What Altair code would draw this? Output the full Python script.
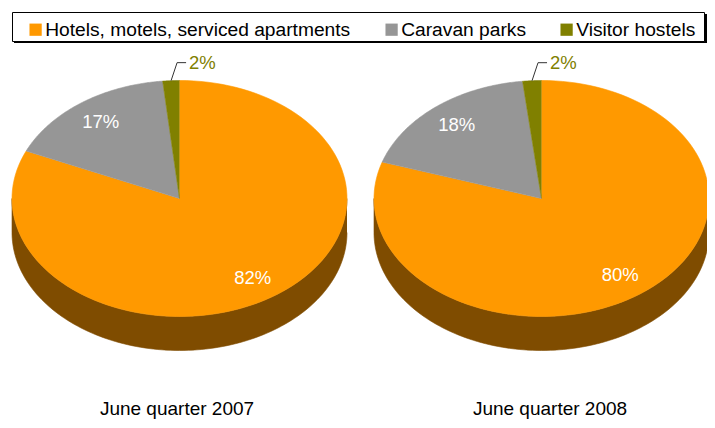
import altair as alt
import pandas as pd

# ---- data -------------------------------------------------------------
categories = ["Hotels, motels, serviced apartments", "Caravan parks", "Visitor hostels"]
periods = ["June quarter 2007", "June quarter 2008"]
share_2007 = [81.6, 16.8, 1.6]
share_2008 = [80.0, 18.2, 1.8]

# ---- styles / layout (page pixels) ------------------------------------
top_colors = ["#FF9900", "#969696", "#808000"]
side_colors = ["#7F4C00", "#4B4B4B", "#404000"]
FONT = "Liberation Sans"
PIE_CX = [179.5, 541.5]
TITLE_X = [177, 550]
TITLE_BASELINE = 415
PIE_CY = 198.5
RX, RY, DEPTH = 167.5, 118, 34
STEPS = 120

rows = []
for p, (period, shares) in enumerate(zip(periods, [share_2007, share_2008])):
    for c, (cat, s) in enumerate(zip(categories, shares)):
        rows.append({"period": period, "p": p, "category": cat, "c": c, "share": s})
df = pd.DataFrame(rows)

XS = alt.Scale(domain=[8, 707], nice=False, zero=False)
YS = alt.Scale(domain=[8, 420], nice=False, zero=False, reverse=True)


def X(field):
    return alt.X(field, type="quantitative", scale=XS, axis=None)


def Y(field):
    return alt.Y(field, type="quantitative", scale=YS, axis=None)


top_scale = alt.Scale(domain=categories, range=top_colors)
side_scale = alt.Scale(domain=categories, range=side_colors)

base = (
    alt.Chart(df)
    .transform_joinaggregate(total="sum(share)", groupby=["period"])
    .transform_window(cum="sum(share)", groupby=["period"], sort=[alt.SortField("c")], frame=[None, 0])
    .transform_calculate(a0="2*PI*(datum.cum - datum.share)/datum.total")
    .transform_calculate(a1="2*PI*datum.cum/datum.total")
    .transform_calculate(cx=f"{PIE_CX[0]} + datum.p * {PIE_CX[1] - PIE_CX[0]}")
)

# visible side wall of each slice (front half of the ellipse)
side = (
    base.transform_calculate(s0="max(datum.a0, PI/2)")
    .transform_calculate(s1="min(datum.a1, 3*PI/2)")
    .transform_filter("datum.s1 > datum.s0")
    .transform_calculate(k=f"sequence(0, {2 * STEPS + 2})")
    .transform_flatten(["k"])
    .transform_calculate(
        t=f"datum.k <= {STEPS} ? datum.s0 + (datum.s1 - datum.s0) * datum.k / {STEPS}"
        f" : datum.s1 - (datum.s1 - datum.s0) * (datum.k - {STEPS + 1}) / {STEPS}"
    )
    .transform_calculate(dz=f"datum.k <= {STEPS} ? 0 : {DEPTH}")
    .transform_calculate(px=f"datum.cx + {RX} * sin(datum.t)")
    .transform_calculate(py=f"{PIE_CY} - {RY} * cos(datum.t) + datum.dz")
    .mark_line(strokeWidth=0.6, strokeJoin="round")
    .encode(
        x=X("px"),
        y=Y("py"),
        order=alt.Order("k:Q"),
        detail="period:N",
        fill=alt.Fill("category:N", scale=side_scale, legend=None),
        stroke=alt.Stroke("category:N", scale=side_scale, legend=None),
    )
)

legend = alt.Legend(
    orient="none", legendX=18, legendY=12, direction="horizontal", columns=3,
    title=None, symbolType="square", symbolSize=150, symbolStrokeWidth=0,
    labelFont=FONT, labelFontSize=19.2, labelColor="black", labelOffset=0,
    columnPadding=31, labelLimit=0, padding=0,
)

top = (
    base.transform_calculate(k=f"sequence(0, {STEPS + 2})")
    .transform_flatten(["k"])
    .transform_calculate(t=f"datum.a0 + (datum.a1 - datum.a0) * (datum.k - 1) / {STEPS}")
    .transform_calculate(px=f"datum.k == 0 ? datum.cx : datum.cx + {RX} * sin(datum.t)")
    .transform_calculate(py=f"datum.k == 0 ? {PIE_CY} : {PIE_CY} - {RY} * cos(datum.t)")
    .mark_line(strokeWidth=0.6, strokeJoin="round")
    .encode(
        x=X("px"),
        y=Y("py"),
        order=alt.Order("k:Q"),
        detail="period:N",
        fill=alt.Fill("category:N", scale=top_scale, legend=legend, sort=categories),
        stroke=alt.Stroke("category:N", scale=top_scale, legend=None),
    )
)

labels = (
    base.transform_calculate(m="(datum.a0 + datum.a1) / 2")
    .transform_calculate(txt="format(datum.share, '.0f') + '%'")
    .transform_calculate(sx=f"datum.cx + {RX} * sin(datum.m)")
    .transform_calculate(sy=f"{PIE_CY} - {RY} * cos(datum.m)")
)

inner = (
    labels.transform_filter("datum.share >= 5")
    .transform_calculate(lx=f"datum.cx + {0.8 * RX} * sin(datum.m)")
    .transform_calculate(ly=f"{PIE_CY} - {0.8 * RY} * cos(datum.m)")
    .mark_text(color="white", font=FONT, fontSize=18.5, align="center", baseline="middle")
    .encode(x=X("lx"), y=Y("ly"), text="txt:N")
)

small = (
    labels.transform_filter("datum.share < 5")
    .transform_calculate(ex="datum.sx + 6")
    .transform_calculate(ey="datum.sy - 18")
    .transform_calculate(fx="datum.sx + 15")
    .transform_calculate(tx="datum.sx + 18")
)

leader1 = small.mark_rule(color="#333333", strokeWidth=1).encode(
    x=X("sx"), y=Y("sy"), x2="ex:Q", y2="ey:Q"
)
leader2 = small.mark_rule(color="#333333", strokeWidth=1).encode(
    x=X("ex"), y=Y("ey"), x2="fx:Q", y2="ey:Q"
)
outer = small.mark_text(font=FONT, fontSize=18.5, align="left", baseline="middle").encode(
    x=X("tx"), y=Y("ey"), text="txt:N",
    color=alt.Color("category:N", scale=top_scale, legend=None),
)

titles = (
    alt.Chart(pd.DataFrame({"period": periods, "p": list(range(len(periods)))}))
    .transform_calculate(tx=f"{TITLE_X[0]} + datum.p * {TITLE_X[1] - TITLE_X[0]}")
    .transform_calculate(ty=f"{TITLE_BASELINE}")
    .mark_text(font=FONT, fontSize=19, color="black", align="center", baseline="alphabetic")
    .encode(x=X("tx"), y=Y("ty"), text="period:N")
)

frame_src = alt.Chart(pd.DataFrame({"z": [0]}))
shadow = frame_src.mark_rect(color="black").encode(
    x=alt.X(datum=14, type="quantitative", scale=XS, axis=None), x2=alt.datum(707),
    y=alt.Y(datum=14, type="quantitative", scale=YS, axis=None), y2=alt.datum(43),
)
box = frame_src.mark_rect(fill="white", stroke="black", strokeWidth=1).encode(
    x=alt.X(datum=12.5, type="quantitative", scale=XS, axis=None), x2=alt.datum(704.5),
    y=alt.Y(datum=12.5, type="quantitative", scale=YS, axis=None), y2=alt.datum(41.5),
)

chart = (
    alt.layer(shadow, box, side, top, inner, leader1, leader2, outer, titles)
    .resolve_scale(fill="independent", stroke="independent", color="independent")
    .properties(width=699, height=412, padding=0, autosize=alt.AutoSizeParams(type="none"),
                background="white")
    .configure_view(stroke=None)
)

chart.save("out.html", embed_options={"renderer": "svg", "actions": False})
